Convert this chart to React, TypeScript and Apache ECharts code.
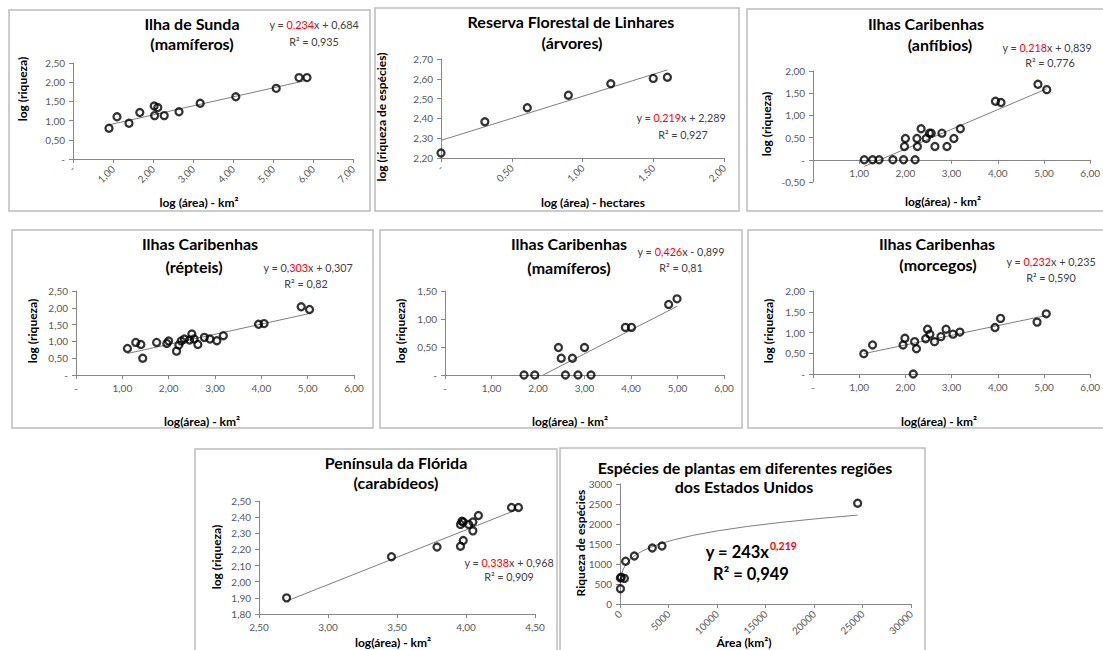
import React, { useEffect, useRef } from 'react';
import * as echarts from 'echarts';

const FONT = 'Lato, "Open Sans", sans-serif';

// ---- Data ----
// Ilha de Sunda (mamíferos)
const p1X = [0.90, 1.10, 1.40, 1.67, 2.03, 2.04, 2.12, 2.28, 2.65, 3.18, 4.07, 5.08, 5.65, 5.85];
const p1Y = [0.80, 1.10, 0.93, 1.21, 1.38, 1.13, 1.34, 1.13, 1.23, 1.45, 1.62, 1.84, 2.12, 2.12];
const t1X = [0.90, 5.85];
const t1Y = [0.89, 2.05];

// Reserva Florestal de Linhares (árvores)
const p2X = [0.0, 0.31, 0.61, 0.90, 1.20, 1.50, 1.60];
const p2Y = [2.225, 2.383, 2.454, 2.517, 2.575, 2.602, 2.608];
const t2X = [0.0, 1.60];
const t2Y = [2.289, 2.645];

// Ilhas Caribenhas (anfíbios)
const p3X = [1.11, 1.29, 1.43, 1.73, 1.96, 2.21, 1.98, 2.00, 2.25, 2.26, 2.34, 2.45, 2.52, 2.56, 2.64, 2.79, 2.90, 3.05, 3.19, 3.95, 4.07, 4.87, 5.06];
const p3Y = [0, 0, 0, 0, 0, 0, 0.30, 0.48, 0.48, 0.30, 0.70, 0.48, 0.60, 0.60, 0.30, 0.60, 0.30, 0.48, 0.70, 1.32, 1.29, 1.70, 1.58];
const t3X = [1.11, 5.06];
const t3Y = [-0.15, 1.60];

// Ilhas Caribenhas (répteis)
const p4X = [1.11, 1.29, 1.40, 1.44, 1.74, 1.96, 2.00, 2.17, 2.22, 2.27, 2.34, 2.45, 2.50, 2.55, 2.63, 2.77, 2.89, 3.04, 3.18, 3.94, 4.06, 4.86, 5.04];
const p4Y = [0.79, 0.97, 0.91, 0.50, 0.97, 0.94, 1.01, 0.71, 0.89, 1.01, 1.07, 1.04, 1.22, 1.07, 0.91, 1.12, 1.07, 1.02, 1.17, 1.51, 1.53, 2.03, 1.95];
const t4X = [1.11, 5.04];
const t4Y = [0.64, 1.83];

// Ilhas Caribenhas (mamíferos)
const p5X = [1.70, 1.93, 2.44, 2.50, 2.59, 2.74, 2.86, 3.00, 3.14, 3.88, 4.01, 4.81, 4.99];
const p5Y = [0, 0, 0.49, 0.30, 0, 0.30, 0, 0.49, 0, 0.85, 0.85, 1.26, 1.36];
const t5X = [2.11, 5.00];
const t5Y = [0, 1.23];

// Ilhas Caribenhas (morcegos)
const p6X = [1.10, 1.29, 1.95, 1.99, 2.20, 2.17, 2.24, 2.44, 2.48, 2.53, 2.63, 2.77, 2.88, 3.03, 3.18, 3.94, 4.06, 4.85, 5.05];
const p6Y = [0.49, 0.70, 0.70, 0.86, 0.78, 0, 0.61, 0.85, 1.08, 0.96, 0.78, 0.90, 1.08, 0.96, 1.01, 1.12, 1.34, 1.25, 1.45];
const t6X = [1.10, 5.05];
const t6Y = [0.49, 1.41];

// Península da Flórida (carabídeos)
const p7X = [2.70, 3.46, 3.79, 3.96, 3.98, 3.96, 3.97, 3.98, 4.02, 4.05, 4.05, 4.09, 4.33, 4.38];
const p7Y = [1.90, 2.155, 2.215, 2.22, 2.255, 2.355, 2.375, 2.37, 2.355, 2.37, 2.315, 2.41, 2.46, 2.46];
const t7X = [2.70, 4.38];
const t7Y = [1.88, 2.45];

// Espécies de plantas em diferentes regiões dos Estados Unidos
const p8X = [50, 40, 130, 450, 580, 1480, 3330, 4330, 24500];
const p8Y = [380, 650, 670, 640, 1070, 1200, 1400, 1450, 2520];
// power trendline y = 243 x^0.219, drawn over the data range
const powA = 243;
const powB = 0.219;
const t8X = [30, 60, 100, 200, 350, 600, 1000, 1500, 2200, 3000, 4000, 5500, 7500, 10000, 13000, 16500, 20500, 24500];

// ---- Layout ----
const fmt2 = (v: number) => (Math.abs(v) < 1e-9 ? '-' : v.toFixed(2).replace('.', ','));
const fmt2NoZero = (v: number) => (Math.abs(v) < 1e-9 ? '' : v.toFixed(2).replace('.', ','));
const fmtInt = (v: number) => String(Math.round(v));

type PanelCfg = {
  grid: { left: number; top: number; width: number; height: number };
  x: number[]; y: number[]; rotate: number; xOffset: number;
  xf: (v: number) => string; yf: (v: number) => string;
  xs: number[]; ys: number[]; tx: number[]; ty: number[];
};

const panels: PanelCfg[] = [
  { grid: { left: 73, top: 63, width: 280, height: 96 }, x: [0, 7, 1], y: [0, 2.5, 0.5], rotate: 45, xOffset: 0, xf: fmt2, yf: fmt2, xs: p1X, ys: p1Y, tx: t1X, ty: t1Y },
  { grid: { left: 441, top: 59, width: 283, height: 99 }, x: [0, 2, 0.5], y: [2.2, 2.7, 0.1], rotate: 45, xOffset: 0, xf: fmt2, yf: fmt2, xs: p2X, ys: p2Y, tx: t2X, ty: t2Y },
  { grid: { left: 813, top: 71, width: 280, height: 111 }, x: [0, 6, 1], y: [-0.5, 2, 0.5], rotate: 0, xOffset: -22.2, xf: fmt2NoZero, yf: fmt2, xs: p3X, ys: p3Y, tx: t3X, ty: t3Y },
  { grid: { left: 76, top: 291, width: 278, height: 84 }, x: [0, 6, 1], y: [0, 2.5, 0.5], rotate: 0, xOffset: 0, xf: fmt2, yf: fmt2, xs: p4X, ys: p4Y, tx: t4X, ty: t4Y },
  { grid: { left: 445, top: 291, width: 279, height: 84 }, x: [0, 6, 1], y: [0, 1.5, 0.5], rotate: 0, xOffset: 0, xf: fmt2, yf: fmt2, xs: p5X, ys: p5Y, tx: t5X, ty: t5Y },
  { grid: { left: 813, top: 291, width: 278, height: 83 }, x: [0, 6, 1], y: [0, 2, 0.5], rotate: 0, xOffset: 0, xf: fmt2, yf: fmt2, xs: p6X, ys: p6Y, tx: t6X, ty: t6Y },
  { grid: { left: 259, top: 501, width: 276, height: 113 }, x: [2.5, 4.5, 0.5], y: [1.8, 2.5, 0.1], rotate: 0, xOffset: 0, xf: fmt2, yf: fmt2, xs: p7X, ys: p7Y, tx: t7X, ty: t7Y },
  { grid: { left: 620, top: 484, width: 291, height: 120 }, x: [0, 30000, 5000], y: [0, 3000, 500], rotate: 45, xOffset: 0, xf: fmtInt, yf: fmtInt, xs: p8X, ys: p8Y, tx: t8X, ty: t8X.map((x) => powA * Math.pow(x, powB)) },
];

const frames = [
  [9, 10, 361, 201], [375, 8, 364, 203], [747, 9, 362, 202],
  [12, 230, 361, 198], [380, 230, 362, 198], [748, 230, 362, 198],
  [195, 449, 362, 215], [560, 448, 365, 215],
];

const titles: [string, number, number][] = [
  ['Ilha de Sunda', 192, 23], ['(mamíferos)', 192, 43],
  ['Reserva Florestal de Linhares', 571, 21], ['(árvores)', 572, 42],
  ['Ilhas Caribenhas', 926, 23], ['(anfíbios)', 940, 44],
  ['Ilhas Caribenhas', 200, 243], ['(répteis)', 194, 266],
  ['Ilhas Caribenhas', 569, 243], ['(mamíferos)', 569, 267],
  ['Ilhas Caribenhas', 937, 243], ['(morcegos)', 938, 264],
  ['Península da Flórida', 396, 462], ['(carabídeos)', 396, 482],
  ['Espécies de plantas em diferentes regiões', 745, 467], ['dos Estados Unidos', 744, 486],
];

const xTitles: [string, number, number][] = [
  ['log (área) - km²', 199, 202], ['log (área) - hectares', 593, 202], ['log(área) - km²', 943, 201],
  ['log(área) - km²', 202, 421], ['log(área) - km²', 570, 421], ['log(área) - km²', 939, 421],
  ['log(área) - km²', 393, 642], ['Área (km²)', 744, 642],
];

const yTitles: [string, number, number][] = [
  ['log (riqueza)', 22, 89], ['log (riqueza de espécies)', 381, 117], ['log (riqueza)', 766, 124],
  ['log (riqueza)', 32, 331], ['log (riqueza)', 400, 331], ['log (riqueza)', 768, 331],
  ['log (riqueza)', 216, 557], ['Riqueza de espécies', 580, 543],
];

// equations: [prefix, red part, suffix, cx, cy, r2 text, r2cx, r2cy]
const equations: [string, string, string, number, number, string, number, number][] = [
  ['y = ', '0,234', 'x + 0,684', 314, 24, 'R² = 0,935', 314, 41],
  ['y = ', '0,219', 'x + 2,289', 681, 117, 'R² = 0,927', 683, 134],
  ['y = ', '0,218', 'x + 0,839', 1047, 47, 'R² = 0,776', 1050, 62],
  ['y = 0,', '303', 'x + 0,307', 308, 267, 'R² = 0,82', 306, 283],
  ['y = ', '0,426', 'x - 0,899', 681, 251, 'R² = 0,81', 681, 267],
  ['y = ', '0,232', 'x + 0,235', 1051, 261, 'R² = 0,590', 1051, 277],
  ['y = ', '0,338', 'x + 0,968', 509, 562, 'R² = 0,909', 509, 576],
];

const AXIS_COLOR = '#868686';
const LABEL_COLOR = '#595959';
const EQ_SIZE = 10.8;

function buildOption() {
  const grid = panels.map((p) => ({ ...p.grid, containLabel: false }));
  const xAxis = panels.map((p, i) => ({
    type: 'value', gridIndex: i, min: p.x[0], max: p.x[1], interval: p.x[2],
    offset: p.xOffset,
    axisLine: { show: true, onZero: false, lineStyle: { color: AXIS_COLOR, width: 1 } },
    axisTick: { show: true, length: 4, lineStyle: { color: AXIS_COLOR } },
    axisLabel: { rotate: p.rotate, fontSize: 10, color: LABEL_COLOR, fontFamily: FONT, formatter: p.xf, margin: 8 },
    splitLine: { show: false },
  }));
  const yAxis = panels.map((p, i) => ({
    type: 'value', gridIndex: i, min: p.y[0], max: p.y[1], interval: p.y[2],
    axisLine: { show: true, onZero: false, lineStyle: { color: AXIS_COLOR, width: 1 } },
    axisTick: { show: true, length: 4, lineStyle: { color: AXIS_COLOR } },
    axisLabel: { fontSize: 10, color: LABEL_COLOR, fontFamily: FONT, formatter: p.yf, margin: 8 },
    splitLine: { show: false },
  }));
  const series: any[] = [];
  panels.forEach((p, i) => {
    series.push({
      type: 'line', xAxisIndex: i, yAxisIndex: i, symbol: 'none', smooth: false,
      data: p.tx.map((x, k) => [x, p.ty[k]]),
      lineStyle: { color: '#7f7f7f', width: 1 }, z: 1, silent: true,
    });
    series.push({
      type: 'scatter', xAxisIndex: i, yAxisIndex: i, symbol: 'circle', symbolSize: 7,
      data: p.xs.map((x, k) => [x, p.ys[k]]),
      itemStyle: { color: 'rgba(0,0,0,0)', borderColor: '#000', borderWidth: 2.3 }, z: 3,
    });
  });

  const graphic: any[] = [];
  frames.forEach(([x, y, w, h]) => {
    graphic.push({ type: 'rect', shape: { x, y, width: w, height: h }, style: { fill: 'none', stroke: '#bcbcbc', lineWidth: 1.5 }, z: 0, silent: true });
  });
  const txt = (text: string, x: number, y: number, size: number, weight: string, fill: string, rotation = 0) => ({
    type: 'text', x, y, rotation, silent: true, z: 10,
    style: { text, fill, font: `${weight} ${size}px ${FONT}`, align: 'center', verticalAlign: 'middle', textAlign: 'center', textVerticalAlign: 'middle' },
  });
  titles.forEach(([t, x, y]) => graphic.push(txt(t, x, y, 16, 'bold', '#000')));
  xTitles.forEach(([t, x, y]) => graphic.push(txt(t, x, y, 12, 'bold', '#000')));
  yTitles.forEach(([t, x, y]) => graphic.push(txt(t, x, y, 12, 'bold', '#000', Math.PI / 2)));
  equations.forEach(([a, r, b, cx, cy, r2, rx, ry]) => {
    graphic.push({
      type: 'text', x: cx, y: cy, silent: true, z: 10,
      style: {
        text: `{g|${a}}{r|${r}}{g|${b}}`,
        font: `normal ${EQ_SIZE}px ${FONT}`,
        align: 'center', verticalAlign: 'middle', textAlign: 'center', textVerticalAlign: 'middle',
        rich: {
          g: { fill: '#404040', color: '#404040', fontSize: EQ_SIZE, fontFamily: FONT },
          r: { fill: '#ff0000', color: '#ff0000', fontSize: EQ_SIZE, fontFamily: FONT },
        },
      },
    });
    graphic.push(txt(r2, rx, ry, EQ_SIZE, 'normal', '#404040'));
  });
  // power-law equation (panel 8)
  graphic.push({
    type: 'text', x: 769, y: 552, silent: true, z: 10,
    style: { text: 'y = 243x', fill: '#000', font: `bold 16.5px ${FONT}`, align: 'right', verticalAlign: 'middle', textAlign: 'right', textVerticalAlign: 'middle' },
  });
  graphic.push({
    type: 'text', x: 770, y: 546, silent: true, z: 10,
    style: { text: '0,219', fill: '#ff0000', font: `bold 10.5px ${FONT}`, align: 'left', verticalAlign: 'middle', textAlign: 'left', textVerticalAlign: 'middle' },
  });
  graphic.push(txt('R² = 0,949', 751, 574, 16.5, 'bold', '#000'));

  return {
    animation: false,
    backgroundColor: '#fff',
    grid, xAxis, yAxis, series, graphic,
  };
}

export default function App() {
  const ref = useRef<HTMLDivElement>(null);
  useEffect(() => {
    if (!ref.current) return;
    const chart = echarts.init(ref.current, undefined, { renderer: 'svg' });
    chart.setOption(buildOption() as any);
    return () => chart.dispose();
  }, []);
  return (
    <div
      ref={ref}
      style={{ position: 'fixed', left: 0, top: 0, width: 1103, height: 650, background: '#fff' }}
    />
  );
}
